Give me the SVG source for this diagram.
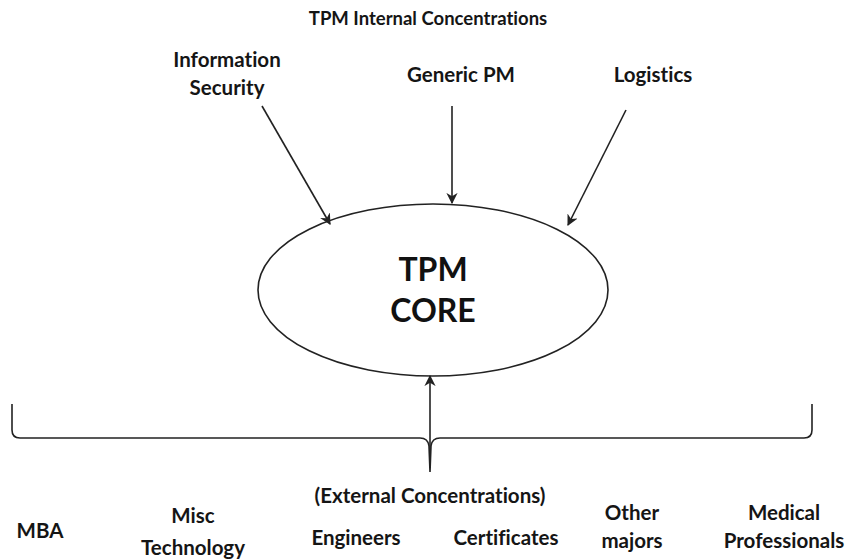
<svg xmlns="http://www.w3.org/2000/svg" width="852" height="560" viewBox="0 0 852 560">
  <style>
    text { font-family: "Lato", "Noto Sans", "Liberation Sans", sans-serif; font-weight: bold; fill: #151515; text-anchor: middle; font-variant-ligatures: none; }
    .lbl { font-size: 20.5px; }
    .title { font-size: 18.5px; }
    .core { font-size: 32px; fill: #111; }
    .line { stroke: #222; stroke-width: 1.6; fill: none; }
  </style>
  <defs>
    <marker id="arrow" viewBox="0 0 10 10" refX="9" refY="5" markerWidth="7" markerHeight="7" orient="auto-start-reverse">
      <path d="M0,0 L10,5 L0,10 L3,5 Z" fill="#222"/>
    </marker>
  </defs>
  <rect width="852" height="560" fill="#fff"/>

  <text class="title" x="428" y="25">TPM Internal Concentrations</text>

  <g id="info-security">
    <text class="lbl" x="227" y="67">Information</text>
    <text class="lbl" x="227" y="95">Security</text>
  </g>
  <g id="generic-pm">
    <text class="lbl" x="461" y="82">Generic PM</text>
  </g>
  <g id="logistics">
    <text class="lbl" x="653" y="82">Logistics</text>
  </g>

  <g id="core">
    <ellipse cx="433" cy="290" rx="175" ry="86" fill="#fff" stroke="#222" stroke-width="1.6"/>
    <text class="core" x="433" y="281">TPM</text>
    <text class="core" x="433" y="322">CORE</text>
  </g>

  <g id="external">
    <text class="lbl" x="430" y="503">(External Concentrations)</text>
    <text class="lbl" x="40" y="538">MBA</text>
    <text class="lbl" x="193" y="523">Misc</text>
    <text class="lbl" x="193" y="555">Technology</text>
    <text class="lbl" x="356" y="545">Engineers</text>
    <text class="lbl" x="506" y="545">Certificates</text>
    <text class="lbl" x="632" y="520">Other</text>
    <text class="lbl" x="632" y="548">majors</text>
    <text class="lbl" x="784" y="520">Medical</text>
    <text class="lbl" x="784" y="548">Professionals</text>
  </g>

  <g id="connectors">
    <line class="line" x1="262" y1="106" x2="330" y2="224" marker-end="url(#arrow)"/>
    <line class="line" x1="452" y1="106" x2="452" y2="203" marker-end="url(#arrow)"/>
    <line class="line" x1="626" y1="110" x2="568" y2="225" marker-end="url(#arrow)"/>
    <line class="line" x1="430" y1="468" x2="430" y2="376" marker-end="url(#arrow)"/>
    <!-- bracket grouping the external concentrations -->
    <path class="line" d="M12,404 L12,430 Q12,438 20,438 L420,438 Q428,438 429,446 L430,472 L431,446 Q432,438 440,438 L804,438 Q812,438 812,430 L812,404"/>
  </g>
</svg>
